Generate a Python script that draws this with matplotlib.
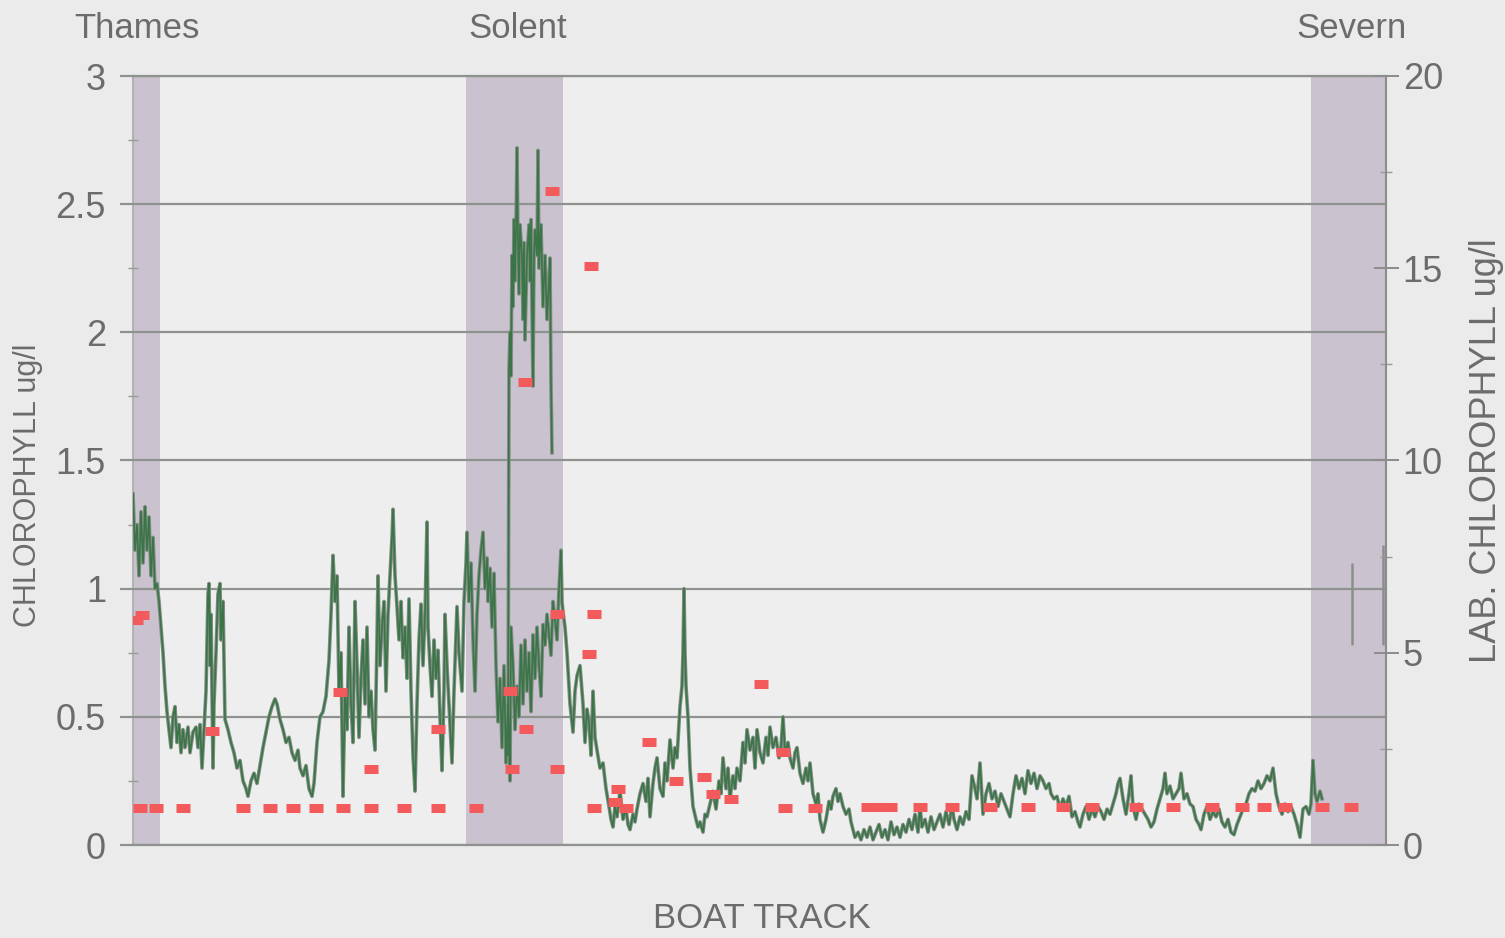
import matplotlib.pyplot as plt
from matplotlib.ticker import MultipleLocator

plt.rcParams['font.family'] = ['Liberation Sans', 'DejaVu Sans']

# fluorometer chlorophyll along the boat track: (track position, ug/l)
leg_thames = [
    (133, 1.37), (135, 1.15), (137, 1.25), (139, 1.05), (141, 1.30), (143, 1.10), (145, 1.32),
    (147, 1.15), (149, 1.28), (151, 1.05), (153, 1.20), (155, 1.00), (157, 1.02), (159, 0.95),
    (161, 0.85), (163, 0.75), (165, 0.62), (167, 0.52), (169, 0.45), (171, 0.38), (173, 0.50),
    (175, 0.54), (177, 0.40), (179, 0.47), (181, 0.36), (183, 0.45), (185, 0.38), (188, 0.46),
    (190, 0.36), (193, 0.44), (196, 0.46), (198, 0.38), (200, 0.47), (202, 0.30), (204, 0.45),
    (206, 0.60), (208, 0.98), (209, 1.02), (210, 0.70), (211, 0.90), (213, 0.30), (214, 0.55),
    (216, 0.75), (218, 0.98), (220, 1.02), (221, 0.80), (223, 0.95), (225, 0.49), (228, 0.45),
    (231, 0.40), (234, 0.36), (237, 0.30), (240, 0.33), (243, 0.25), (246, 0.22), (248, 0.19),
    (251, 0.25), (254, 0.28), (257, 0.24), (260, 0.31), (263, 0.38), (266, 0.44), (269, 0.50),
    (272, 0.54), (275, 0.57), (277, 0.55), (280, 0.49), (283, 0.45), (286, 0.40), (289, 0.42),
    (292, 0.36), (295, 0.33), (298, 0.37), (300, 0.30), (303, 0.27), (306, 0.31), (309, 0.22),
    (312, 0.19), (314, 0.24), (317, 0.40), (320, 0.50), (323, 0.52), (326, 0.58), (329, 0.72),
    (331, 0.90),
]
leg_approach = [
    (333, 1.13), (335, 0.95), (337, 1.05), (339, 0.60), (341, 0.75), (343, 0.19), (345, 0.60),
    (347, 0.45), (349, 0.85), (351, 0.55), (353, 0.40), (355, 0.95), (357, 0.70), (359, 0.42),
    (361, 0.65), (363, 0.80), (365, 0.55), (367, 0.85), (369, 0.50), (371, 0.60), (373, 0.45),
    (375, 0.37), (377, 0.80), (378, 1.05), (380, 0.70), (382, 0.85), (384, 0.95), (386, 0.60),
    (388, 0.90), (390, 1.05), (392, 1.20), (393, 1.31), (395, 1.05), (397, 0.93), (399, 0.80),
    (401, 0.95), (403, 0.73), (405, 0.85), (407, 0.65), (409, 0.96), (411, 0.60), (413, 0.35),
    (415, 0.21), (417, 0.55), (419, 0.80), (421, 0.94), (423, 0.70), (425, 0.90), (427, 1.26),
    (428, 0.85), (430, 0.70), (432, 0.58), (434, 0.80), (436, 0.65), (438, 0.76), (440, 0.50),
    (442, 0.29), (444, 0.60), (445, 0.90), (447, 0.70), (449, 0.55), (451, 0.40), (452, 0.32),
    (454, 0.60), (457, 0.93), (459, 0.75), (462, 0.60), (464, 0.95), (466, 1.10), (467, 1.22),
    (469, 0.95), (471, 1.10), (473, 0.80), (475, 0.60), (477, 0.90), (479, 1.05), (481, 1.15),
    (483, 1.22), (485, 1.00), (487, 1.12), (488, 0.95), (490, 1.08), (492, 0.85), (494, 1.06),
    (496, 0.70), (498, 0.48), (500, 0.65), (502, 0.38), (504, 0.70), (506, 0.32), (508, 0.55),
    (510, 0.25),
]
leg_solent = [
    (511, 0.85), (513, 0.70), (515, 0.45), (517, 0.62), (519, 0.50), (521, 0.78), (523, 0.55),
    (525, 0.80), (527, 0.60), (529, 0.75), (531, 0.52), (533, 0.82), (535, 0.65), (537, 0.85),
    (539, 0.70), (541, 0.58), (543, 0.86), (545, 0.78), (547, 0.90), (549, 0.82), (551, 0.74),
    (553, 0.95), (555, 0.88), (557, 0.80), (559, 1.00), (561, 1.15), (562, 0.95), (563, 0.91),
    (565, 0.85), (567, 0.75), (570, 0.55), (573, 0.44), (575, 0.60), (577, 0.66), (580, 0.70),
    (583, 0.55), (585, 0.40), (587, 0.53), (589, 0.48), (591, 0.35), (593, 0.60), (595, 0.42),
    (597, 0.37),
]
leg_channel = [
    (600, 0.30), (603, 0.32), (606, 0.22), (609, 0.15), (611, 0.10), (613, 0.07), (615, 0.15),
    (617, 0.11), (620, 0.21), (623, 0.10), (626, 0.14), (628, 0.08), (630, 0.06), (633, 0.12),
    (635, 0.09), (637, 0.14), (640, 0.20), (643, 0.24), (646, 0.17), (648, 0.26), (650, 0.11),
    (653, 0.24), (655, 0.30), (657, 0.34), (660, 0.22), (663, 0.19), (665, 0.32), (667, 0.25),
    (670, 0.41), (673, 0.30), (675, 0.38), (677, 0.34), (680, 0.54), (682, 0.62), (683, 0.75),
    (684, 1.00), (685, 0.75), (686, 0.62), (688, 0.50), (690, 0.30), (693, 0.15), (696, 0.10),
    (698, 0.07), (700, 0.09), (703, 0.05), (705, 0.12), (707, 0.11), (710, 0.16), (713, 0.21),
    (716, 0.14), (719, 0.25), (721, 0.20), (723, 0.34), (726, 0.22), (728, 0.30), (730, 0.18),
    (733, 0.27), (735, 0.22), (737, 0.30), (740, 0.25), (743, 0.40), (745, 0.32), (747, 0.45),
    (750, 0.37), (753, 0.42), (755, 0.30), (757, 0.45), (760, 0.36), (763, 0.32), (766, 0.42),
    (768, 0.35), (770, 0.46), (773, 0.38), (776, 0.42), (779, 0.34), (781, 0.38), (783, 0.50),
    (785, 0.36), (788, 0.40), (790, 0.34), (793, 0.30), (795, 0.36), (797, 0.38), (800, 0.28),
    (803, 0.24), (806, 0.30), (808, 0.25), (810, 0.32), (813, 0.20), (816, 0.16), (818, 0.20),
    (820, 0.10), (823, 0.05), (826, 0.10), (829, 0.17), (831, 0.14), (833, 0.19), (836, 0.22),
    (838, 0.17), (840, 0.20), (843, 0.15), (846, 0.12), (849, 0.14), (851, 0.09), (853, 0.06),
    (855, 0.03), (858, 0.05), (861, 0.02), (864, 0.06), (867, 0.03), (870, 0.07), (873, 0.02),
    (876, 0.05), (879, 0.08), (882, 0.03), (885, 0.06), (888, 0.02), (891, 0.09), (894, 0.04),
    (897, 0.07), (900, 0.03), (903, 0.08), (906, 0.05), (909, 0.10), (912, 0.06), (915, 0.12),
    (918, 0.05), (920, 0.15), (922, 0.07), (925, 0.10), (928, 0.05), (931, 0.11), (934, 0.06),
    (937, 0.09), (940, 0.12), (943, 0.07), (946, 0.13), (949, 0.08), (952, 0.15), (954, 0.10),
    (957, 0.06), (960, 0.11), (963, 0.08), (966, 0.13), (969, 0.10),
]
leg_west = [
    (972, 0.27), (975, 0.22), (977, 0.18), (980, 0.32), (983, 0.12), (986, 0.20), (989, 0.24),
    (992, 0.18), (995, 0.21), (998, 0.15), (1001, 0.20), (1004, 0.17), (1007, 0.14), (1010, 0.11),
    (1013, 0.20), (1016, 0.27), (1019, 0.22), (1022, 0.26), (1025, 0.20), (1028, 0.29), (1031, 0.24),
    (1034, 0.28), (1037, 0.22), (1040, 0.27), (1043, 0.25), (1046, 0.22), (1049, 0.24), (1051, 0.20),
    (1054, 0.18), (1057, 0.19), (1060, 0.14), (1063, 0.18), (1066, 0.15), (1069, 0.19), (1072, 0.11),
    (1075, 0.13), (1078, 0.09), (1080, 0.07), (1083, 0.12), (1086, 0.15), (1089, 0.10), (1092, 0.14),
    (1095, 0.11), (1098, 0.15), (1101, 0.13), (1104, 0.10), (1107, 0.14), (1110, 0.12), (1113, 0.16),
    (1116, 0.20), (1118, 0.24), (1120, 0.26), (1123, 0.18), (1126, 0.12), (1129, 0.20), (1131, 0.27),
    (1133, 0.15), (1136, 0.10), (1139, 0.16), (1142, 0.14), (1145, 0.12), (1148, 0.10), (1151, 0.07),
    (1154, 0.09), (1157, 0.14), (1160, 0.18), (1163, 0.22), (1165, 0.28), (1167, 0.20), (1170, 0.23),
    (1173, 0.18), (1176, 0.20), (1179, 0.22), (1181, 0.28), (1184, 0.18), (1187, 0.20), (1190, 0.16),
    (1193, 0.15), (1196, 0.10), (1199, 0.08), (1201, 0.06), (1204, 0.12), (1207, 0.15), (1210, 0.10),
    (1213, 0.13), (1216, 0.11), (1219, 0.14), (1222, 0.09), (1225, 0.07), (1228, 0.10), (1231, 0.05),
    (1234, 0.04), (1237, 0.08), (1240, 0.11), (1243, 0.14), (1246, 0.16), (1249, 0.20), (1252, 0.22),
    (1255, 0.21), (1258, 0.25), (1261, 0.22), (1264, 0.24), (1267, 0.27), (1270, 0.25), (1273, 0.30),
    (1276, 0.20), (1279, 0.15), (1282, 0.12), (1285, 0.16), (1288, 0.13), (1291, 0.15), (1294, 0.12),
    (1297, 0.08), (1300, 0.03), (1303, 0.14), (1306, 0.15), (1309, 0.12), (1311, 0.16), (1313, 0.33),
    (1315, 0.20), (1317, 0.17), (1320, 0.21), (1322, 0.18),
]
# high readings inside the Solent
solent_high = [
    (508, 0.35), (509, 1.85), (510, 2.00), (511, 1.83), (512, 2.30), (513, 2.10), (514, 2.44),
    (515, 2.20), (516, 2.40), (517, 2.72), (518, 2.35), (519, 2.15), (520, 2.42), (522, 2.30),
    (523, 2.05), (524, 2.35), (525, 1.97), (527, 2.30), (529, 2.42), (530, 2.20), (531, 2.44),
    (532, 2.10), (533, 1.79), (534, 2.30), (535, 2.40), (537, 2.30), (538, 2.71), (539, 2.25),
    (541, 2.42), (543, 2.10), (545, 2.30), (547, 2.05), (549, 2.20), (550, 2.29), (551, 1.80),
    (552, 1.53),
]
# stray readings in the Severn
severn_track = [1352, 1383]
severn_lo = [0.78, 0.78]
severn_hi = [1.10, 1.17]

# lab samples (right axis)
lab_track = [136, 142, 140, 156, 183, 212, 243, 270, 293, 316,
             340, 343, 371, 371, 404, 438, 438, 476, 510, 512,
             525, 526, 552, 557, 557, 589, 591, 594, 594, 615,
             618, 626, 649, 676, 704, 713, 731, 761, 783, 785,
             815, 868, 879, 890, 920, 952, 990, 1028, 1063, 1092,
             1136, 1173, 1212, 1242, 1264, 1285, 1322, 1351]
lab_chl = [5.85, 5.98, 0.95, 0.95, 0.95, 2.96, 0.95, 0.95, 0.95, 0.95,
           3.98, 0.95, 1.98, 0.95, 0.95, 3.02, 0.95, 0.95, 4.0, 1.98,
           12.04, 3.02, 17.0, 6.0, 1.98, 4.97, 15.06, 6.0, 0.95, 1.12,
           1.46, 0.95, 2.68, 1.66, 1.77, 1.33, 1.2, 4.19, 2.42, 0.95,
           0.95, 1.0, 1.0, 1.0, 1.0, 1.0, 1.0, 1.0, 1.0, 1.0,
           1.0, 1.0, 1.0, 1.0, 1.0, 1.0, 1.0, 1.0]

estuaries = ['Thames', 'Solent', 'Severn']
estuary_start = [133, 466, 1311]
estuary_end = [160, 563, 1386]
estuary_label_at = [137, 518, 1352]

left_ticks = [0, 0.5, 1, 1.5, 2, 2.5, 3]
left_labels = ['0', '0.5', '1', '1.5', '2', '2.5', '3']
right_ticks = [0, 5, 10, 15, 20]

grey = '#8e938f'
txt = '#6c6c6c'

fig = plt.figure(figsize=(15.05, 9.38), dpi=100, facecolor='#ebebeb')
ax = fig.add_axes([133 / 1505, 1 - 845 / 938, 1253 / 1505, 769 / 938])
ax.set_facecolor('#eeeeee')
ax.set_xlim(133, 1386)
ax.set_ylim(0, 3)

for name, x0, x1, xl in zip(estuaries, estuary_start, estuary_end, estuary_label_at):
    ax.axvspan(x0, x1, color='#cbc2cf', zorder=0, lw=0)
    ax.text(xl, 1.062, name, transform=ax.get_xaxis_transform(), ha='center', va='center',
            fontsize=25, color=txt)

trace = leg_thames + leg_approach + leg_solent + leg_channel + leg_west
tx = [p[0] for p in trace]
ty = [p[1] for p in trace]
hx = [p[0] for p in solent_high]
hy = [p[1] for p in solent_high]
for xs, ys in [(tx, ty), (hx, hy)]:
    ax.plot(xs, ys, color='#7f8e83', lw=2.6, zorder=3)
    ax.plot(xs, ys, color='#3b7547', lw=1.2, zorder=4)
ax.vlines(severn_track, severn_lo, severn_hi, color='#8a8f8b', lw=1.8, zorder=3)

ax.set_yticks(left_ticks)
ax.set_yticklabels(left_labels)
ax.yaxis.set_minor_locator(MultipleLocator(0.25))
ax.set_xticks([])
ax.yaxis.grid(True, color=grey, lw=1.6, zorder=2)
ax.set_axisbelow(False)
ax.tick_params(axis='y', which='major', direction='out', length=9.5, width=1.6, color=grey,
               pad=10, labelsize=26, labelcolor=txt)
ax.tick_params(axis='y', which='minor', direction='inout', length=7, width=1.0, color='#9a9a9a')
for s in ['top', 'bottom']:
    ax.spines[s].set_color(grey)
    ax.spines[s].set_linewidth(1.6)
ax.spines['left'].set_color('#a9a9a9')
ax.spines['left'].set_linewidth(1.2)
ax.spines['right'].set_visible(False)

ax2 = ax.twinx()
ax2.set_ylim(0, 20)
ax2.set_yticks(right_ticks)
ax2.yaxis.set_minor_locator(MultipleLocator(2.5))
ax2.plot(lab_track, lab_chl, ls='none', marker='_', markersize=10.5, mew=6.5,
         color='#f25a5c', zorder=5)
ax2.tick_params(axis='y', which='major', direction='inout', length=18, width=1.4, color='#8c8c8c',
                pad=3, labelsize=26, labelcolor=txt)
ax2.tick_params(axis='y', which='minor', direction='inout', length=9, width=1.0, color='#9a9a9a')
for s in ['top', 'bottom', 'left']:
    ax2.spines[s].set_visible(False)
ax2.spines['right'].set_color('#8c8c8c')
ax2.spines['right'].set_linewidth(1.5)

fig.text(28 / 1505, 1 - 485 / 938, 'CHLOROPHYLL ug/l', rotation=90, ha='center', va='center',
         fontsize=22, color=txt)
fig.text(1486 / 1505, 1 - 451 / 938, 'LAB. CHLOROPHYLL ug/l', rotation=90, ha='center',
         va='center', fontsize=26, color=txt)
fig.text(762 / 1505, 1 - 918 / 938, 'BOAT TRACK', ha='center', va='center', fontsize=25, color=txt)

fig.savefig('out.png', dpi=100, facecolor=fig.get_facecolor())
